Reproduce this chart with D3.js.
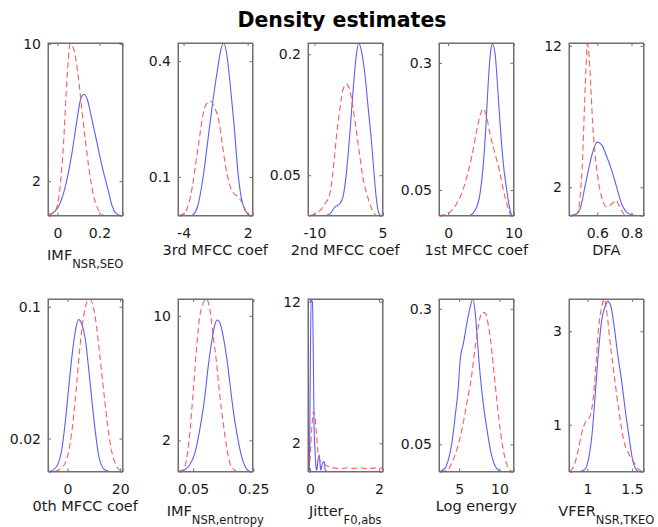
<!DOCTYPE html>
<html>
<head>
<meta charset="utf-8">
<script src="https://cdn.jsdelivr.net/npm/d3@7"></script>
<style>
  html, body { margin: 0; padding: 0; background: #ffffff; }
  svg { display: block; }
  text { font-family: "DejaVu Sans", "Liberation Sans", sans-serif; fill: #1a1a1a; }
</style>
</head>
<body>
<svg id="chart" width="658" height="527"></svg>
<script>
// ---------------- data ----------------
const chartTitle = "Density estimates";
const labelMain = ["IMF", "3rd MFCC coef", "2nd MFCC coef", "1st MFCC coef", "DFA",
                   "0th MFCC coef", "IMF", "Jitter", "Log energy", "VFER"];
const labelSub  = ["NSR,SEO", "", "", "", "", "", "NSR,entropy", "F0,abs", "", "NSR,TKEO"];
const xDomains = [[-0.045, 0.31], [-4.52, 2.45], [-11.4, 5], [-1.4, 10], [0.435, 0.87],
                  [-7.4, 20.9], [0, 0.247], [-0.06, 2.1], [2.5, 11.75], [0.794, 1.63]];
const yMaxes = [10.05, 0.447, 0.214, 0.339, 12.2, 0.1047, 11.08, 12.2, 0.318, 3.69];
const xTickVals = [[0, 0.2], [-4, 2], [-10, 5], [0, 10], [0.6, 0.8],
                   [0, 20], [0.05, 0.25], [0, 2], [5, 10], [1, 1.5]];
const yTickVals = [[2, 10], [0.1, 0.4], [0.05, 0.2], [0.05, 0.3], [2, 12],
                   [0.02, 0.1], [2, 10], [2, 12], [0.05, 0.3], [1, 3]];

// solid blue curves
const blueCurves = [
  [[-0.045,0.04],[-0.011,0.25],[0.013,0.73],[0.045,2.08],[0.069,3.63],[0.093,5.56],[0.109,6.7],[0.125,7.06],[0.141,6.8],[0.165,5.56],[0.189,4.2],[0.213,2.85],[0.237,1.7],[0.261,0.54],[0.277,0.15],[0.30,0]],
  [[-3.18,0],[-2.70,0.022],[-2.21,0.092],[-1.72,0.196],[-1.24,0.30],[-0.82,0.379],[-0.50,0.431],[-0.24,0.447],[0.06,0.414],[0.38,0.335],[0.71,0.24],[1.13,0.10],[1.52,0.031],[2.0,0.004],[2.17,0]],
  [[-7.67,0],[-6.59,0.002],[-5.5,0.0104],[-4.41,0.0146],[-3.7,0.023],[-2.96,0.052],[-2.24,0.098],[-1.52,0.152],[-0.78,0.198],[-0.22,0.214],[0.43,0.202],[1.17,0.173],[1.89,0.131],[2.61,0.090],[3.2,0.048],[3.78,0.0146],[4.28,0.002],[4.65,0]],
  [[3.34,0],[4.11,0.0098],[4.88,0.043],[5.38,0.10],[5.8,0.18],[6.15,0.265],[6.52,0.324],[6.77,0.337],[7.18,0.318],[7.54,0.259],[7.95,0.18],[8.46,0.10],[8.98,0.049],[9.49,0.0098],[9.75,0]],
  [[0.441,0],[0.48,0.12],[0.503,0.6],[0.528,2.02],[0.557,3.69],[0.577,4.64],[0.6,5.19],[0.626,5.0],[0.655,4.17],[0.684,3.21],[0.713,2.02],[0.742,0.83],[0.771,0.24],[0.8,0.05],[0.829,0]],
  [[-7.3,0],[-5.38,0.001],[-3.46,0.0051],[-2.17,0.0132],[-0.88,0.0294],[0.38,0.0496],[1.69,0.0699],[2.96,0.085],[4.23,0.0922],[5.54,0.0891],[6.81,0.080],[8.08,0.0618],[9.38,0.0415],[10.65,0.0233],[11.92,0.0091],[13.85,0.0015],[15.77,0]],
  [[0.0,0],[0.022,0.11],[0.039,0.43],[0.056,1.18],[0.072,2.67],[0.089,4.81],[0.1,6.74],[0.111,8.24],[0.122,9.41],[0.13,9.73],[0.139,9.56],[0.15,8.66],[0.161,7.38],[0.172,5.67],[0.183,3.96],[0.195,2.46],[0.211,0.96],[0.228,0.15],[0.239,0]],
  [[-0.02,0],[0.0,5.4],[0.03,12.1],[0.068,12.0],[0.097,7.75],[0.117,3.05],[0.146,1.41],[0.175,0.24],[0.195,0.1],[0.225,0.7],[0.263,1.18],[0.292,0.47],[0.31,0.1],[0.36,0.58],[0.41,0.7],[0.44,0.1],[0.49,0]],
  [[2.63,0],[3.25,0.0062],[3.66,0.0216],[4.09,0.052],[4.5,0.101],[4.91,0.157],[5.13,0.206],[5.54,0.237],[5.96,0.273],[6.38,0.304],[6.71,0.318],[7.0,0.292],[7.29,0.237],[7.63,0.175],[8.04,0.12],[8.46,0.077],[8.88,0.04],[9.5,0.0092],[10.13,0]],
  [[0.918,0],[0.974,0.05],[1.011,0.25],[1.05,0.75],[1.087,1.61],[1.124,2.54],[1.162,3.25],[1.2,3.53],[1.23,3.64],[1.264,3.53],[1.301,3.1],[1.338,2.54],[1.388,1.89],[1.425,1.32],[1.462,0.82],[1.501,0.32],[1.538,0.07],[1.575,0]]
];

// dashed red curves
const redCurves = [
  [[-0.045,0.02],[-0.035,0.06],[-0.011,0.25],[0.013,1.7],[0.029,4.2],[0.045,7.9],[0.061,10.0],[0.080,9.6],[0.101,7.9],[0.117,6.1],[0.133,4.4],[0.149,2.85],[0.173,1.1],[0.205,0.15],[0.221,0]],
  [[-4.49,0],[-4.0,0.004],[-3.51,0.031],[-3.18,0.074],[-2.86,0.135],[-2.54,0.196],[-2.21,0.257],[-1.89,0.288],[-1.47,0.296],[-1.08,0.279],[-0.69,0.244],[-0.43,0.196],[-0.11,0.135],[0.28,0.083],[0.71,0.057],[1.13,0.048],[1.52,0.031],[2.0,0.004],[2.32,0]],
  [[-10.93,0],[-9.85,0.002],[-8.76,0.006],[-7.67,0.0146],[-6.59,0.027],[-5.87,0.056],[-5.13,0.098],[-4.41,0.131],[-3.7,0.156],[-2.96,0.163],[-2.24,0.156],[-1.52,0.135],[-0.78,0.106],[-0.07,0.077],[0.65,0.048],[1.74,0.023],[2.83,0.006],[3.57,0]],
  [[-1.4,0],[-0.25,0.003],[0.52,0.0098],[1.29,0.0229],[2.06,0.043],[2.83,0.075],[3.6,0.115],[4.37,0.167],[4.88,0.196],[5.38,0.21],[5.9,0.193],[6.42,0.16],[7.18,0.121],[7.85,0.088],[8.46,0.049],[8.98,0.023],[9.49,0.003],[9.75,0]],
  [[0.470,0],[0.489,0.36],[0.503,1.79],[0.515,4.17],[0.524,7.26],[0.534,10.36],[0.542,12.14],[0.552,11.3],[0.562,9.17],[0.573,6.55],[0.587,4.4],[0.6,2.98],[0.616,1.79],[0.635,0.95],[0.655,0.6],[0.674,0.71],[0.697,0.95],[0.713,1.07],[0.722,0.83],[0.742,0.36],[0.761,0]],
  [[-4.73,0],[-2.81,0.0015],[-0.88,0.0051],[1.04,0.0172],[2.31,0.0334],[3.62,0.0557],[4.88,0.078],[6.15,0.0942],[7.46,0.1033],[8.46,0.1047],[9.77,0.1002],[11.04,0.0881],[12.31,0.0699],[13.85,0.0476],[15.15,0.0294],[16.42,0.0152],[18.35,0.0041],[20.27,0.0004],[20.9,0]],
  [[0.0,0],[0.017,0.11],[0.028,0.75],[0.039,2.46],[0.05,5.03],[0.061,7.81],[0.072,9.94],[0.083,10.8],[0.095,11.08],[0.106,10.37],[0.117,8.66],[0.128,6.95],[0.139,4.81],[0.15,3.1],[0.161,1.6],[0.172,0.54],[0.186,0.11],[0.195,0]],
  [[-0.05,0.05],[0.0,0.94],[0.049,3.05],[0.097,4.23],[0.126,4.11],[0.166,3.29],[0.195,2.35],[0.225,1.41],[0.263,0.94],[0.31,0.7],[0.37,0.59],[0.44,0.47],[0.54,0.35],[0.73,0.24],[0.9,0.2],[1.07,0.26],[1.25,0.22],[1.46,0.25],[1.65,0.2],[1.85,0.24],[2.0,0.27],[2.1,0.22]],
  [[2.63,0],[3.46,0.0015],[4.09,0.0155],[4.71,0.04],[5.34,0.077],[5.96,0.126],[6.59,0.181],[7.0,0.23],[7.41,0.27],[7.84,0.293],[8.25,0.292],[8.66,0.267],[9.09,0.218],[9.5,0.157],[9.91,0.101],[10.34,0.052],[10.75,0.0216],[11.38,0.0015],[11.79,0]],
  [[0.805,0],[0.861,0.18],[0.898,0.46],[0.937,0.82],[0.974,1.04],[1.03,1.18],[1.068,1.61],[1.098,2.32],[1.124,3.03],[1.162,3.53],[1.188,3.69],[1.219,3.39],[1.256,2.75],[1.293,2.18],[1.331,1.61],[1.369,1.11],[1.406,0.68],[1.462,0.39],[1.519,0.21],[1.575,0.05],[1.613,0]]
];

// ---------------- layout ----------------
const colLeft = [48, 178, 308, 439, 569];
const rowTop = [43, 299];
const boxW = 74.5, boxH = 172.5;
const boxColor = "#6f6f6f";
const blueColor = "#5c5cff";
const redColor = "#ff5c5c";

const svg = d3.select("#chart");

svg.append("text")
  .attr("x", 342).attr("y", 27)
  .attr("text-anchor", "middle")
  .style("font-weight", "bold")
  .style("font-size", "20.5px")
  .style("fill", "#000")
  .text(chartTitle);

const fmt = v => String(v);

labelMain.forEach((lab, i) => {
  const row = Math.floor(i / 5), col = i % 5;
  const x0 = colLeft[col], y0 = rowTop[row];
  const g = svg.append("g").attr("transform", `translate(${x0},${y0})`);

  const x = d3.scaleLinear().domain(xDomains[i]).range([0, boxW]);
  const y = d3.scaleLinear().domain([0, yMaxes[i]]).range([boxH, 0]);

  g.append("clipPath").attr("id", "clip" + i)
    .append("rect").attr("x", 0).attr("y", 0).attr("width", boxW).attr("height", boxH);

  const line = d3.line().x(d => x(d[0])).y(d => y(d[1])).curve(d3.curveMonotoneX);

  const plot = g.append("g").attr("clip-path", `url(#clip${i})`);
  plot.append("path").datum(blueCurves[i])
    .attr("d", line).attr("fill", "none")
    .attr("stroke", blueColor).attr("stroke-width", 1.1);
  plot.append("path").datum(redCurves[i])
    .attr("d", line).attr("fill", "none")
    .attr("stroke", redColor).attr("stroke-width", 1.1)
    .attr("stroke-dasharray", "6,3.5");

  // axes (ticks inward, MATLAB-like box)
  const tl = 3;
  const xb = d3.axisBottom(x).tickValues(xTickVals[i]).tickSize(-tl).tickPadding(8).tickFormat(fmt);
  const xt = d3.axisTop(x).tickValues(xTickVals[i]).tickSize(-tl).tickFormat("");
  const yl = d3.axisLeft(y).tickValues(yTickVals[i]).tickSize(-tl).tickPadding(7).tickFormat(fmt);
  const yr = d3.axisRight(y).tickValues(yTickVals[i]).tickSize(-tl).tickFormat("");

  const gxb = g.append("g").attr("transform", `translate(0,${boxH})`).call(xb);
  g.append("g").call(xt);
  const gyl = g.append("g").call(yl);
  g.append("g").attr("transform", `translate(${boxW},0)`).call(yr);

  g.selectAll(".domain").attr("stroke", boxColor);
  g.selectAll(".tick line").attr("stroke", boxColor);
  g.selectAll(".tick text").style("font-size", "14px").style("fill", "#1a1a1a")
    .style("font-family", '"DejaVu Sans", sans-serif');
  gxb.selectAll(".tick text").attr("dy", null).attr("y", 22);

  g.append("rect").attr("x", 0).attr("y", 0).attr("width", boxW).attr("height", boxH)
    .attr("fill", "none").attr("stroke", boxColor).attr("stroke-width", 1);

  // x label
  const hasSub = labelSub[i] !== "";
  const t = g.append("text")
    .attr("x", boxW / 2)
    .attr("y", boxH + (hasSub ? 44 : 39))
    .attr("text-anchor", "middle")
    .style("font-size", "14.5px");
  t.append("tspan").text(lab);
  if (hasSub) {
    t.append("tspan").attr("dy", 8).style("font-size", "11.5px").text(labelSub[i]);
  }
});
</script>
</body>
</html>
